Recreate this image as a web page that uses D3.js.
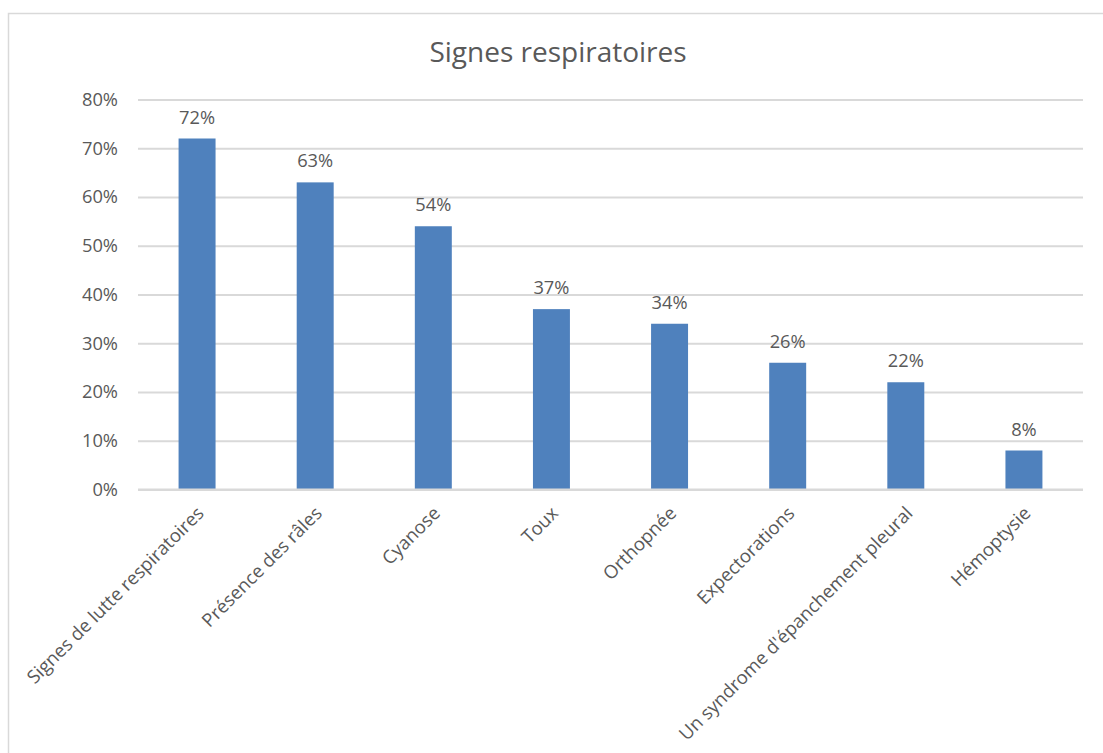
<!DOCTYPE html>
<html>
<head>
<meta charset="utf-8">
<script src="https://cdn.jsdelivr.net/npm/d3@7"></script>
<style>
  html, body { margin: 0; padding: 0; background: #fff; }
  svg { display: block; font-family: "Open Sans", sans-serif; }
</style>
</head>
<body>
<svg id="chart" width="1103" height="753"></svg>
<script>
// Signes respiratoires — proportion of patients (%)
const categories = [
  "Signes de lutte respiratoires",
  "Présence des râles",
  "Cyanose",
  "Toux",
  "Orthopnée",
  "Expectorations",
  "Un syndrome d'épanchement pleural",
  "Hémoptysie"
];
const values = [72, 63, 54, 37, 34, 26, 22, 8];
const yTicks = [0, 10, 20, 30, 40, 50, 60, 70, 80];
const title = "Signes respiratoires";

const svg = d3.select("#chart");
const textColor = "#595959";
const gridColor = "#d9d9d9";
const barColor = "#4f81bd";

// chart frame
svg.append("rect")
  .attr("x", 8.5).attr("y", 13.5)
  .attr("width", 1120).attr("height", 760)
  .attr("fill", "none").attr("stroke", gridColor).attr("stroke-width", 1.5);

const plot = { left: 138, right: 1083, top: 99.5, bottom: 489.5 };

const x = d3.scaleBand()
  .domain(categories)
  .range([plot.left, plot.right])
  .paddingInner(0.687)
  .paddingOuter(0.687 / 2);

const y = d3.scaleLinear()
  .domain([0, 80])
  .range([plot.bottom, plot.top]);

// title
svg.append("text")
  .attr("x", 558).attr("y", 62)
  .attr("text-anchor", "middle")
  .attr("font-size", 28)
  .attr("fill", textColor)
  .text(title);

// y axis with gridlines
const yAxis = d3.axisLeft(y)
  .tickValues(yTicks)
  .tickSize(-(plot.right - plot.left))
  .tickPadding(20)
  .tickFormat(d => d + "%");

const gy = svg.append("g")
  .attr("transform", `translate(${plot.left},0)`)
  .call(yAxis);
gy.select(".domain").remove();
gy.selectAll(".tick line").attr("stroke", gridColor).attr("stroke-width", 2);
gy.selectAll(".tick text")
  .attr("fill", textColor)
  .attr("font-size", 18.3)
  .attr("font-family", "Open Sans, sans-serif");

// bars
svg.append("g").selectAll("rect")
  .data(values)
  .join("rect")
  .attr("x", (d, i) => x(categories[i]))
  .attr("width", x.bandwidth())
  .attr("y", d => y(d))
  .attr("height", d => y(0) - y(d))
  .attr("fill", barColor);

// value labels
svg.append("g").selectAll("text")
  .data(values)
  .join("text")
  .attr("x", (d, i) => x(categories[i]) + x.bandwidth() / 2)
  .attr("y", d => y(d) - 15)
  .attr("text-anchor", "middle")
  .attr("font-size", 18.3)
  .attr("fill", textColor)
  .text(d => d + "%");

// rotated category labels
const xAxis = d3.axisBottom(x).tickSize(0).tickPadding(0);
const gx = svg.append("g")
  .attr("transform", `translate(0,${plot.bottom})`)
  .call(xAxis);
gx.select(".domain").remove();
gx.selectAll(".tick text")
  .attr("fill", textColor)
  .attr("font-size", 18.5)
  .attr("font-family", "Open Sans, sans-serif")
  .attr("text-anchor", "end")
  .attr("dy", null)
  .attr("y", 0)
  .attr("transform", "translate(8,25) rotate(-45)");

// baseline drawn over bar bottoms
svg.append("line")
  .attr("x1", plot.left).attr("x2", plot.right)
  .attr("y1", y(0)).attr("y2", y(0))
  .attr("stroke", gridColor).attr("stroke-width", 2);
</script>
</body>
</html>
